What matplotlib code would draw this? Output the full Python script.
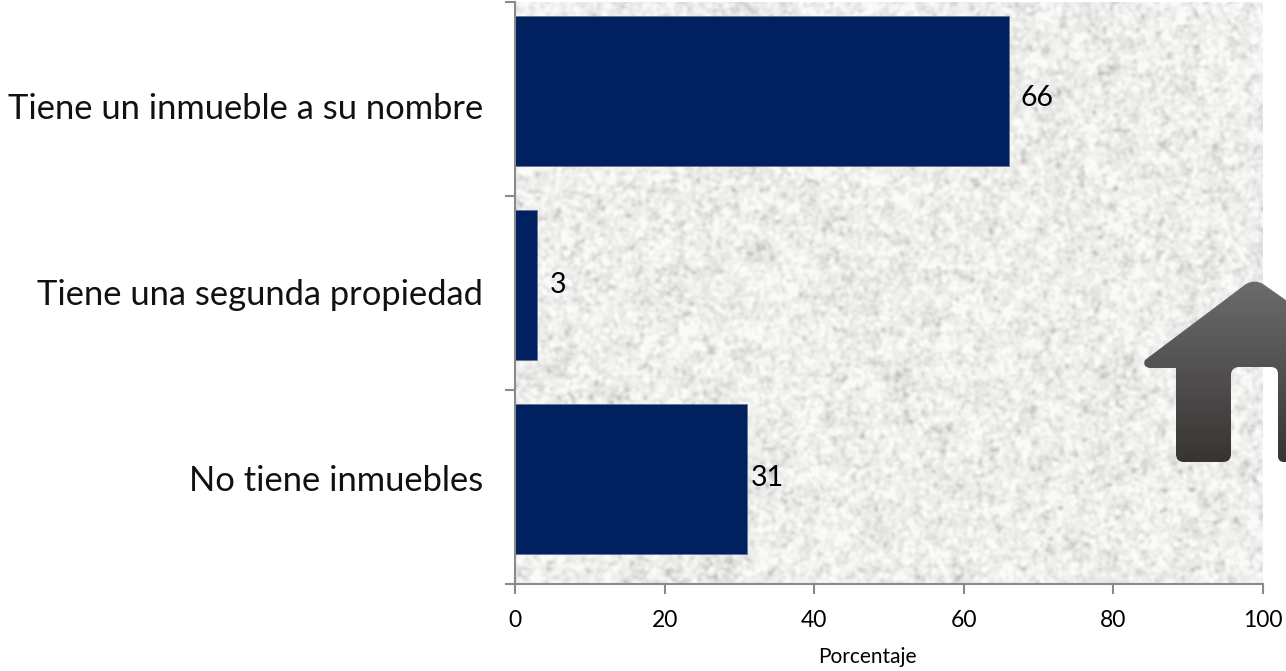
import numpy as np
import matplotlib
matplotlib.use('Agg')
import matplotlib.pyplot as plt
from matplotlib.path import Path
from matplotlib.patches import PathPatch

plt.rcParams['font.family'] = ['Lato', 'DejaVu Sans']

categories = ['Tiene un inmueble a su nombre', 'Tiene una segunda propiedad', 'No tiene inmuebles']
values = [66, 3, 31]
x_ticks = [0, 20, 40, 60, 80, 100]
x_label = 'Porcentaje'

W, H = 1286, 671
NAVY = '#012060'
GREY = '#8a8a8a'

fig = plt.figure(figsize=(W / 100, H / 100), dpi=100)
ax = fig.add_axes([515 / W, 1 - 584 / H, 748 / W, 582 / H])

# paper texture behind the plot, only decoration
rng = np.random.default_rng(7)
h, w = 582, 748
fx = np.fft.fftfreq(w)[None, :]
fy = np.fft.fftfreq(h)[:, None]


def blur_noise(sigma):
    n = np.fft.ifft2(np.fft.fft2(rng.normal(size=(h, w))) * np.exp(-(fx**2 + fy**2) / (2 * sigma**2))).real
    return n / n.std()


tex = blur_noise(0.09) * 0.85 + blur_noise(0.035) * 0.4 + blur_noise(0.012) * 0.1
tex = 238 + 8 * tex - 1.5 * np.clip(tex, -3, 0) ** 2
tex = np.clip(tex, 195, 250)
rgb = np.dstack([tex, tex, tex - 2]) / 255
ax.imshow(rgb, extent=(0, 100, 3, 0), aspect='auto', interpolation='bilinear', zorder=0)

y_pos = np.arange(len(categories)) + 0.5 - 0.04
bars = ax.barh(y_pos, values, height=0.775, color=NAVY, edgecolor='#5f7396', linewidth=0.5, zorder=2)
ax.set_xlim(0, 100)
ax.set_ylim(3, 0)

label_dx = [28.5, 21, 20]
label_dy = [-7, 0, 1]
for b, v, dx, dy in zip(bars, values, label_dx, label_dy):
    ax.annotate(str(v), (v, b.get_y() + b.get_height() / 2), xytext=(dx, dy),
                textcoords='offset pixels', ha='center', va='center', fontsize=20.5, color='black', zorder=3)

ax.set_xticks(x_ticks)
ax.set_yticks([0, 1, 2, 3])
ax.set_yticklabels([])
ax.tick_params(axis='both', length=7, width=1.5, color=GREY, direction='out')
ax.tick_params(axis='x', labelsize=16.5, pad=12)
for s in ['top', 'right']:
    ax.spines[s].set_visible(False)
for s in ['left', 'bottom']:
    ax.spines[s].set_color(GREY)
    ax.spines[s].set_linewidth(1.5)
ax.set_xlabel(x_label, fontsize=15, x=0.4706, labelpad=11)

for i, c in enumerate(categories):
    ax.text(-0.043, 1.51 + (i - 1) * 0.959, c, transform=ax.get_yaxis_transform(), ha='right', va='center',
            fontsize=24.8, color='#111111')

# house icon in pixel coordinates, runs off the right edge
ov = fig.add_axes([0, 0, 1, 1], zorder=5)
ov.set_xlim(0, W)
ov.set_ylim(H, 0)
ov.axis('off')
ov.patch.set_alpha(0)
verts = [(1145, 360), (1246, 284), (1255, 279), (1263, 284), (1300, 310), (1300, 462), (1284, 462),
         (1278, 462), (1278, 456), (1278, 374), (1278, 367), (1271, 367), (1239, 367), (1232, 367),
         (1231, 374), (1231, 454), (1231, 462), (1223, 462), (1184, 462), (1176, 462), (1176, 454),
         (1176, 368), (1150, 368), (1142, 367), (1145, 360)]
codes = [Path.MOVETO, Path.LINETO, Path.CURVE3, Path.CURVE3, Path.LINETO, Path.LINETO, Path.LINETO,
         Path.CURVE3, Path.CURVE3, Path.LINETO, Path.CURVE3, Path.CURVE3, Path.LINETO, Path.CURVE3,
         Path.CURVE3, Path.LINETO, Path.CURVE3, Path.CURVE3, Path.LINETO, Path.CURVE3, Path.CURVE3,
         Path.LINETO, Path.LINETO, Path.CURVE3, Path.CURVE3]
patch = PathPatch(Path(verts, codes), facecolor='none', edgecolor='none')
ov.add_patch(patch)
grad = np.linspace(0, 1, 200)[:, None]
top = np.array([0x6c, 0x6c, 0x6c]) / 255
bot = np.array([0x38, 0x34, 0x34]) / 255
img = (top + (bot - top) * grad[..., None])
im = ov.imshow(img, extent=(1140, 1300, 462, 280), aspect='auto', interpolation='bilinear')
im.set_clip_path(patch)
ov.set_xlim(0, W)
ov.set_ylim(H, 0)

fig.savefig('out.png', dpi=100)
